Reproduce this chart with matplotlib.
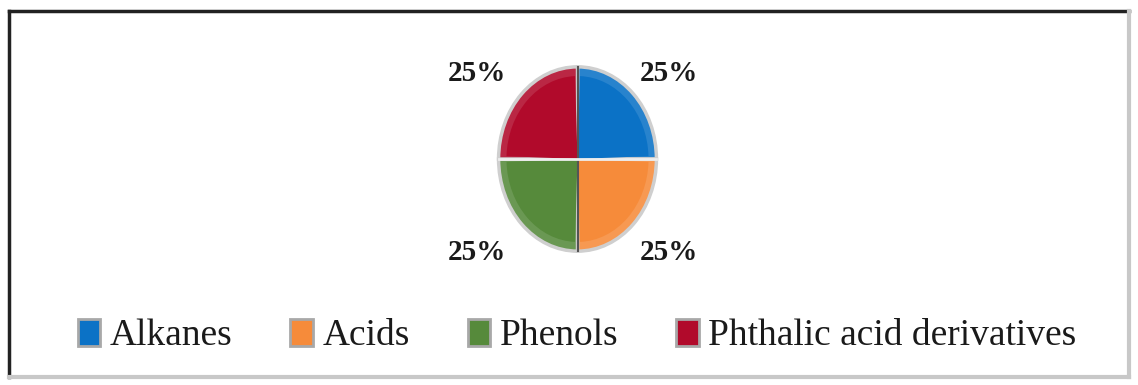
import matplotlib.pyplot as plt
from matplotlib.patches import Patch, Wedge
from matplotlib.lines import Line2D
from matplotlib.colors import to_rgb

categories = ['Alkanes', 'Acids', 'Phenols', 'Phthalic acid derivatives']
shares = [25, 25, 25, 25]
colors = ['#0b72c6', '#f68b3a', '#568a3b', '#b10a2b']

def lighten(c, f):
    r, g, b = to_rgb(c)
    return (r + (1 - r) * f, g + (1 - g) * f, b + (1 - b) * f)

W, H = 1138, 385
fig = plt.figure(figsize=(W / 100, H / 100), dpi=100)
fig.patch.set_facecolor('white')

# outer frame: dark on top/left, soft grey on bottom/right
frame = fig.add_axes([0, 0, 1, 1])
frame.set_xlim(0, W)
frame.set_ylim(H, 0)
frame.axis('off')
frame.add_line(Line2D([9, 9], [11, 377], color='#222222', lw=2.5))
frame.add_line(Line2D([9, 1129], [11, 11], color='#222222', lw=2.5))
frame.add_line(Line2D([1129, 1129], [11, 377], color='#c8c8c8', lw=3))
frame.add_line(Line2D([9, 1129], [377, 377], color='#c8c8c8', lw=3))

# pie axis, slightly taller than wide
px0, px1, py0, py1 = 497, 658, 65, 253
ax = fig.add_axes([px0 / W, 1 - py1 / H, (px1 - px0) / W, (py1 - py0) / H])
wedges, _ = ax.pie(shares, colors=[lighten(c, 0.12) for c in colors],
                   startangle=90, counterclock=False,
                   wedgeprops=dict(edgecolor='#cfcfcf', linewidth=2.5))
ax.set_aspect('auto')
ax.set_xlim(-1.02, 1.02)
ax.set_ylim(-1.02, 1.02)

# inner face of each slice for the bevel effect
for w, c in zip(wedges, colors):
    ax.add_patch(Wedge((0, 0), 0.9, w.theta1 + 2, w.theta2 - 2,
                       facecolor=c, edgecolor='none'))
ax.axvline(0, ymin=0.01, ymax=0.99, color='#555555', lw=1.5)
ax.axhline(0, xmin=0.01, xmax=0.99, color='#eeeeee', lw=2)

total = sum(shares)
label_pos = [(1.16, 0.93), (1.16, -1.02), (-1.28, -1.02), (-1.28, 0.93)]
for s, (lx, ly) in zip(shares, label_pos):
    ax.text(lx, ly, '{0:.0f}%'.format(100 * s / total), ha='center', va='center',
            fontsize=21, fontweight='bold', family='Liberation Serif',
            color='#1a1a1a', clip_on=False)

handles = [Patch(facecolor=c, edgecolor='#a8a8a8', linewidth=2) for c in colors]
fig.legend(handles, categories, loc='center', bbox_to_anchor=(577 / W, 1 - 336 / H),
           ncol=4, frameon=False, prop={'family': 'Liberation Serif', 'size': 27},
           handlelength=0.6, handleheight=0.75, handletextpad=0.25,
           columnspacing=1.55, borderpad=0, labelcolor='#1a1a1a')

fig.savefig('out.png', dpi=100)
